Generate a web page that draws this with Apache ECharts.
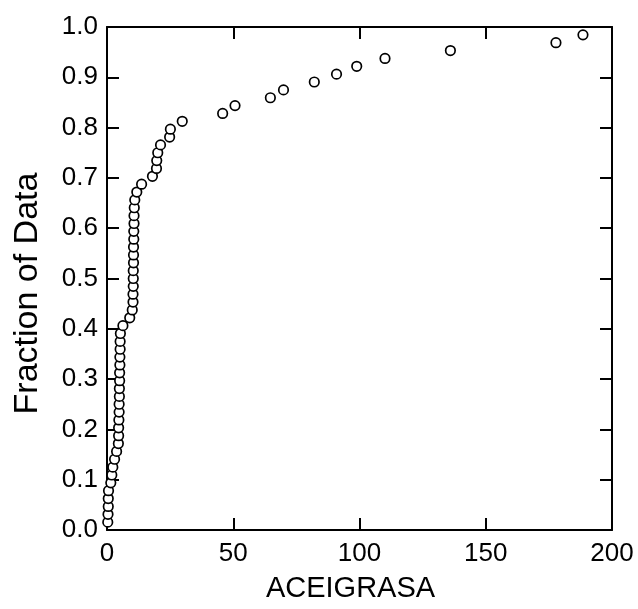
<!DOCTYPE html>
<html>
<head>
<meta charset="utf-8">
<script src="https://cdn.jsdelivr.net/npm/echarts@6/dist/echarts.min.js"></script>
<style>html,body{margin:0;padding:0;background:#fff}#c{width:638px;height:609px}</style>
</head>
<body>
<div id="c"></div>
<script>
// ACEIGRASA values (sorted), cumulative fraction = rank / 64
const aceigrasa = [
  0.3, 0.4, 0.5, 0.5, 0.6, 1.5, 1.9, 2.3, 3.0, 3.8,
  4.5, 4.6, 4.6, 4.7, 4.8, 4.8, 4.9, 4.9, 5.0, 5.0,
  5.1, 5.1, 5.2, 5.2, 5.3, 6.3, 9.0, 10.0, 10.3, 10.3,
  10.4, 10.4, 10.4, 10.5, 10.5, 10.5, 10.6, 10.6, 10.7, 10.7,
  10.8, 11.0, 11.8, 13.7, 18.0, 19.6, 19.7, 20.1, 21.2, 24.8,
  25.1, 29.8, 45.8, 50.7, 64.7, 69.9, 82.1, 90.9, 98.9, 110.1,
  136.0, 177.8, 188.5
];
const fractionDenominator = 64;
const xTicks = [0, 50, 100, 150, 200];
const yTicks = [0.0, 0.1, 0.2, 0.3, 0.4, 0.5, 0.6, 0.7, 0.8, 0.9, 1.0];

const points = aceigrasa.map((v, i) => [v, (i + 1) / fractionDenominator]);

const font = 'Liberation Sans, Arial, sans-serif';
const lineStyle = { color: '#000', width: 2 };
const axisLine = { show: true, onZero: false, lineStyle };
const tick = { show: true, inside: true, length: 12, lineStyle: { color: '#000', width: 2 } };

const chart = echarts.init(document.getElementById('c'), null, { renderer: 'canvas' });
chart.setOption({
  animation: false,
  backgroundColor: '#fff',
  grid: { left: 107, right: 26, top: 27, bottom: 79 },
  xAxis: [
    {
      type: 'value', min: xTicks[0], max: xTicks[xTicks.length - 1], interval: 50,
      position: 'bottom',
      name: 'ACEIGRASA', nameLocation: 'middle', nameGap: 44,
      nameTextStyle: { color: '#000', fontSize: 29, fontFamily: font, padding: [0, 18, 0, 0] },
      axisLine: axisLine,
      axisTick: tick,
      axisLabel: { color: '#000', fontSize: 26, fontFamily: font, margin: 11 },
      splitLine: { show: false }
    },
    {
      type: 'value', min: xTicks[0], max: xTicks[xTicks.length - 1], interval: 50,
      position: 'top',
      axisLine: axisLine,
      axisTick: tick,
      axisLabel: { show: false },
      splitLine: { show: false }
    }
  ],
  yAxis: [
    {
      type: 'value', min: yTicks[0], max: yTicks[yTicks.length - 1], interval: 0.1,
      position: 'left',
      name: 'Fraction of Data', nameLocation: 'middle', nameGap: 62,
      nameTextStyle: { color: '#000', fontSize: 34, fontFamily: font, padding: [0, 30, 0, 0] },
      axisLine: axisLine,
      axisTick: tick,
      axisLabel: { color: '#000', fontSize: 26, fontFamily: font, margin: 9,
        formatter: v => v.toFixed(1) },
      splitLine: { show: false }
    },
    {
      type: 'value', min: yTicks[0], max: yTicks[yTicks.length - 1], interval: 0.1,
      position: 'right',
      axisLine: axisLine,
      axisTick: tick,
      axisLabel: { show: false },
      splitLine: { show: false }
    }
  ],
  series: [{
    type: 'scatter',
    xAxisIndex: 0, yAxisIndex: 0,
    data: points,
    symbol: 'circle',
    symbolSize: 9.5,
    itemStyle: { color: '#fff', borderColor: '#000', borderWidth: 1.7, opacity: 1 },
    clip: false
  }]
});
</script>
</body>
</html>
